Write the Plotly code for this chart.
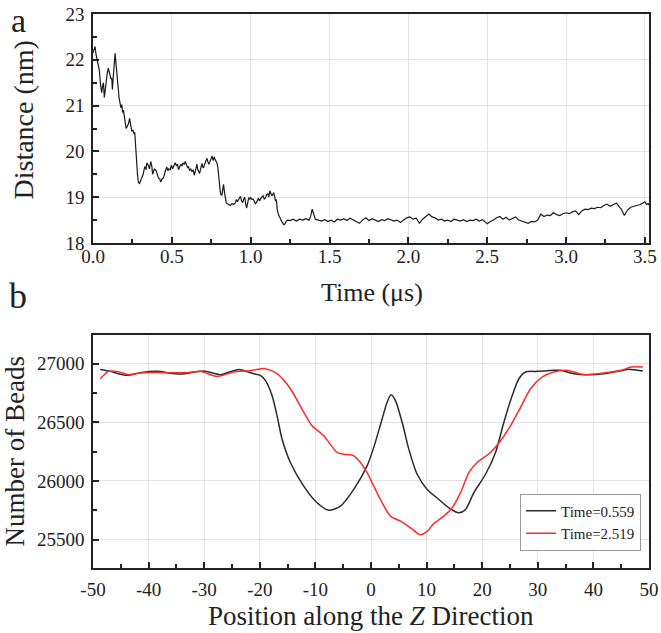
import plotly.graph_objects as go

# ---------- Panel a: distance vs time ----------
time_us = [0.0, 0.006, 0.013, 0.02, 0.03, 0.04, 0.048, 0.055, 0.06, 0.066, 0.072, 0.078, 0.083, 0.09, 0.097,
           0.103, 0.108, 0.114, 0.119, 0.123, 0.128, 0.134, 0.14, 0.145, 0.15, 0.155, 0.161, 0.166, 0.172,
           0.177, 0.182, 0.188, 0.193, 0.198, 0.205, 0.21, 0.218, 0.226, 0.232, 0.238, 0.246, 0.253, 0.26,
           0.265, 0.27, 0.276, 0.282, 0.288, 0.295, 0.302, 0.31, 0.318, 0.325, 0.33, 0.336, 0.341, 0.35,
           0.358, 0.366, 0.373, 0.378, 0.383, 0.39, 0.4, 0.408, 0.415, 0.423, 0.43, 0.438, 0.447, 0.457,
           0.468, 0.475, 0.48, 0.49, 0.497, 0.505, 0.512, 0.521, 0.53, 0.536, 0.542, 0.55, 0.557, 0.564,
           0.57, 0.578, 0.585, 0.593, 0.6, 0.606, 0.612, 0.62, 0.627, 0.635, 0.642, 0.65, 0.659, 0.665,
           0.672, 0.676, 0.684, 0.691, 0.696, 0.701, 0.708, 0.716, 0.723, 0.728, 0.735, 0.74, 0.748, 0.755,
           0.762, 0.769, 0.775, 0.78, 0.786, 0.792, 0.797, 0.802, 0.807, 0.812, 0.818, 0.823, 0.828, 0.834,
           0.839, 0.845, 0.85, 0.86, 0.871, 0.882, 0.893, 0.903, 0.91, 0.916, 0.924, 0.93, 0.935, 0.942,
           0.949, 0.955, 0.962, 0.968, 0.974, 0.98, 0.987, 0.994, 1.0, 1.008, 1.015, 1.022, 1.03, 1.036,
           1.042, 1.05, 1.056, 1.062, 1.07, 1.079, 1.086, 1.093, 1.1, 1.108, 1.115, 1.121, 1.128, 1.134,
           1.14, 1.146, 1.152, 1.157, 1.163, 1.168, 1.176, 1.184, 1.192, 1.2, 1.21, 1.218, 1.226, 1.235,
           1.25, 1.27, 1.29, 1.31, 1.33, 1.35, 1.37, 1.38, 1.39, 1.40, 1.41, 1.43, 1.45, 1.47, 1.49, 1.51,
           1.53, 1.55, 1.57, 1.59, 1.61, 1.63, 1.65, 1.67, 1.69, 1.71, 1.73, 1.75, 1.77, 1.79, 1.81, 1.83,
           1.85, 1.87, 1.89, 1.91, 1.93, 1.95, 1.97, 1.99, 2.01, 2.03, 2.05, 2.07, 2.09, 2.11, 2.13, 2.15,
           2.17, 2.19, 2.21, 2.23, 2.25, 2.27, 2.29, 2.31, 2.33, 2.35, 2.37, 2.39, 2.41, 2.43, 2.45, 2.47,
           2.49, 2.5, 2.52, 2.54, 2.56, 2.58, 2.6, 2.62, 2.64, 2.66, 2.68, 2.70, 2.72, 2.74, 2.76, 2.78,
           2.80, 2.82, 2.84, 2.86, 2.88, 2.90, 2.92, 2.94, 2.96, 2.98, 3.0, 3.02, 3.04, 3.06, 3.08, 3.10,
           3.12, 3.14, 3.16, 3.18, 3.2, 3.22, 3.24, 3.26, 3.28, 3.3, 3.32, 3.34, 3.35, 3.37, 3.39, 3.41,
           3.43, 3.45, 3.47, 3.49, 3.5, 3.51, 3.52, 3.53]
distance_nm = [22.15, 22.25, 22.29, 22.1, 21.9, 21.78, 21.45, 21.28, 21.42, 21.5, 21.18, 21.4, 21.57, 21.7, 21.82,
               21.75, 21.68, 21.58, 21.6, 21.35, 21.6, 21.95, 22.14, 21.95, 21.72, 21.45, 21.21, 21.15, 21.05,
               20.95, 21.02, 20.85, 20.9, 20.78, 20.55, 20.5, 20.55, 20.62, 20.72, 20.55, 20.44, 20.46, 20.39,
               20.4, 20.1, 19.8, 19.5, 19.32, 19.3, 19.36, 19.42, 19.5, 19.62, 19.67, 19.6, 19.75, 19.7,
               19.62, 19.78, 19.68, 19.5, 19.55, 19.62, 19.58, 19.48, 19.42, 19.4, 19.33, 19.4, 19.42, 19.55,
               19.66, 19.58, 19.62, 19.6, 19.7, 19.62, 19.68, 19.75, 19.68, 19.72, 19.6, 19.66, 19.72, 19.68,
               19.75, 19.72, 19.78, 19.7, 19.65, 19.67, 19.58, 19.62, 19.56, 19.6, 19.48, 19.58, 19.72, 19.6,
               19.55, 19.52, 19.64, 19.74, 19.66, 19.64, 19.72, 19.8, 19.85, 19.78, 19.72, 19.76, 19.82, 19.9,
               19.8, 19.88, 19.82, 19.78, 19.75, 19.65, 19.45, 19.2, 19.12, 19.05, 19.05, 19.18, 19.28, 19.1,
               18.95, 18.88, 18.86, 18.84, 18.82, 18.86, 18.84, 18.88, 18.95, 18.9, 18.94, 18.98, 19.02, 18.92,
               18.88, 18.95, 19.0, 18.86, 18.76, 18.86, 18.98, 18.96, 18.99, 18.95, 18.96, 18.92, 18.86, 18.88,
               18.94, 18.98, 18.92, 18.96, 19.0, 19.03, 18.96, 18.98, 19.05, 19.08, 19.0, 19.14, 19.08, 19.03,
               19.06, 19.1, 19.02, 18.92, 18.95, 18.74, 18.62, 18.55, 18.48, 18.45, 18.4, 18.42, 18.48, 18.5,
               18.49, 18.52, 18.48, 18.52, 18.5, 18.53, 18.5, 18.58, 18.74, 18.62, 18.52, 18.5, 18.48, 18.51, 18.47, 18.5,
               18.46, 18.52, 18.5, 18.53, 18.49, 18.54, 18.5, 18.47, 18.43, 18.5, 18.55, 18.49, 18.53, 18.5, 18.47, 18.51,
               18.49, 18.53, 18.5, 18.48, 18.5, 18.45, 18.5, 18.55, 18.57, 18.52, 18.54, 18.43, 18.52, 18.58, 18.63, 18.57,
               18.55, 18.5, 18.52, 18.48, 18.5, 18.47, 18.52, 18.5, 18.48, 18.51, 18.47, 18.5, 18.49, 18.52, 18.48, 18.51,
               18.46, 18.42, 18.47, 18.5, 18.55, 18.58, 18.52, 18.56, 18.5, 18.54, 18.57, 18.5, 18.48, 18.46, 18.43, 18.47,
               18.46, 18.5, 18.63, 18.58, 18.61, 18.6, 18.66, 18.62, 18.6, 18.64, 18.66, 18.64, 18.68, 18.7, 18.62, 18.7,
               18.74, 18.73, 18.76, 18.75, 18.78, 18.77, 18.82, 18.85, 18.8, 18.84, 18.87, 18.78, 18.74, 18.6, 18.72, 18.78,
               18.8, 18.82, 18.84, 18.88, 18.9, 18.84, 18.86, 18.82]

# ---------- Panel b: number of beads along Z ----------
z_black = [-48.7, -46.9, -43.9, -41.5, -38.5, -34.3, -30.1, -27.1, -23.8, -21.1, -19.9, -19.0, -17.8, -16.9,
           -16.0, -14.5, -12.1, -9.7, -7.6, -5.5, -3.1, -0.7, 0.5, 2.0, 2.9, 3.6, 4.4, 5.6, 6.8, 8.3, 10.1,
           12.2, 14.0, 15.8, 17.0, 18.5, 20.6, 22.4, 23.9, 25.4, 26.6, 27.8, 29.9, 32.9, 34.1, 36.5, 38.9,
           41.9, 44.4, 46.2, 48.9]
n_black = [26950, 26934, 26900, 26923, 26934, 26911, 26937, 26906, 26951, 26914, 26900, 26857, 26728, 26557,
           26357, 26157, 25956, 25814, 25750, 25785, 25928, 26128, 26286, 26528, 26671, 26734, 26685, 26500,
           26271, 26057, 25928, 25842, 25771, 25728, 25757, 25900, 26057, 26243, 26500, 26728, 26871, 26929,
           26934, 26943, 26943, 26914, 26906, 26914, 26934, 26951, 26937]

z_red = [-48.7, -47.2, -45.7, -43.6, -40.9, -37.3, -33.1, -30.7, -27.7, -24.7, -21.7, -19.0, -16.9, -14.5,
         -12.1, -10.6, -8.5, -6.1, -4.9, -3.1, -1.9, -0.7, 1.7, 3.5, 5.3, 7.1, 8.8, 10.1, 11.3, 13.1, 14.6,
         16.1, 17.6, 19.1, 21.5, 23.3, 25.1, 26.9, 28.7, 30.8, 32.9, 35.0, 36.5, 38.3, 40.7, 43.2, 45.0,
         46.8, 48.9]
n_red = [26871, 26934, 26934, 26906, 26923, 26923, 26923, 26934, 26891, 26929, 26940, 26957, 26914, 26786,
         26586, 26471, 26385, 26243, 26228, 26214, 26157, 26071, 25842, 25700, 25657, 25600, 25542, 25571,
         25636, 25700, 25771, 25900, 26071, 26157, 26243, 26342, 26471, 26628, 26786, 26886, 26929, 26943,
         26929, 26906, 26914, 26929, 26943, 26971, 26971]

labels_b = ["Time=0.559", "Time=2.519"]

# tick labels
z_ticks = [-50, -40, -30, -20, -10, 0, 10, 20, 30, 40, 50]
z_ticklabels = ["-50", "-40", "-30", "-20", "-10", "0", "10", "20", "30", "40", "50"]
beads_ticks = [25500, 26000, 26500, 27000]
beads_ticklabels = ["25500", "26000", "26500", "27000"]

FONT = "Liberation Serif"
W, H = 661, 633
ML, MR, MT, MB = 93, 12, 14, 65
PW, PH = W - ML - MR, H - MT - MB


def px_x(x):
    return (x - ML) / PW


def px_y(y):
    return (H - MB - y) / PH


fig = go.Figure()
fig.add_trace(go.Scatter(x=time_us, y=distance_nm, mode="lines", line=dict(color="#1a1a1a", width=1.2),
                         showlegend=False, xaxis="x", yaxis="y"))
fig.add_trace(go.Scatter(x=z_black, y=n_black, mode="lines", name=labels_b[0],
                         line=dict(color="#2b2b2b", width=1.5, shape="spline", smoothing=0.7),
                         xaxis="x2", yaxis="y2"))
fig.add_trace(go.Scatter(x=z_red, y=n_red, mode="lines", name=labels_b[1],
                         line=dict(color="#ff2a2a", width=1.5, shape="spline", smoothing=0.7),
                         xaxis="x2", yaxis="y2"))

axis_common = dict(showline=True, linecolor="#222", linewidth=1.5, mirror=True, automargin=False,
                   showgrid=True, gridcolor="#e3e3e3", gridwidth=1, zeroline=False,
                   ticks="inside", ticklen=6, tickwidth=1.5, tickcolor="#222",
                   tickfont=dict(family=FONT, size=19, color="#222"))
minor_common = dict(ticks="inside", ticklen=4, tickwidth=1.5, tickcolor="#222", showgrid=False)

top_dom = [px_y(243), 1.0]
bot_dom = [0.0, px_y(335)]

fig.update_layout(
    width=W, height=H,
    margin=dict(l=ML, r=MR, t=MT, b=MB, autoexpand=False),
    paper_bgcolor="white", plot_bgcolor="white",
    font=dict(family=FONT, color="#222"),
    xaxis=dict(axis_common, domain=[0, 1], anchor="y", range=[0, 3.526], dtick=0.5, tick0=0,
               tickformat=".1f", ticklabelstandoff=-5, minor=dict(minor_common, dtick=0.25)),
    yaxis=dict(axis_common, domain=top_dom, anchor="x", range=[18, 23], dtick=1, tick0=18,
               ticklabelstandoff=3, minor=dict(minor_common, dtick=0.5)),
    xaxis2=dict(axis_common, domain=[0, 1], anchor="y2", range=[-50, 50],
                tickmode="array", tickvals=z_ticks, ticktext=z_ticklabels, ticklabelstandoff=3,
                minor=dict(minor_common, tickmode="linear", tick0=0, dtick=5)),
    yaxis2=dict(axis_common, domain=bot_dom, anchor="x2", range=[25258, 27244],
                tickmode="array", tickvals=beads_ticks, ticktext=beads_ticklabels, ticklabelstandoff=3,
                minor=dict(minor_common, tickmode="linear", tick0=25500, dtick=250)),
    legend=dict(x=px_x(641), y=px_y(522), xanchor="right", yanchor="middle",
                bgcolor="white", bordercolor="#999", borderwidth=1, itemwidth=30,
                font=dict(family=FONT, size=15, color="#222"), tracegroupgap=0),
)

ann = [
    dict(text="a", x=px_x(18), y=px_y(21), font=dict(size=34)),
    dict(text="b", x=px_x(18), y=px_y(296), font=dict(size=36)),
    dict(text="Time (μs)", x=px_x(372), y=px_y(292), font=dict(size=26)),
    dict(text="Position along the <i>Z</i> Direction", x=px_x(371), y=px_y(616), font=dict(size=27)),
    dict(text="Distance (nm)", x=px_x(22.5), y=px_y(120), font=dict(size=28), textangle=-90),
    dict(text="Number of Beads", x=px_x(14.5), y=px_y(452), font=dict(size=27), textangle=-90),
]
for a in ann:
    a.update(xref="paper", yref="paper", showarrow=False, xanchor="center", yanchor="middle")
    a["font"].update(family=FONT, color="#222")
    fig.add_annotation(**a)

fig.write_html("out.html")
